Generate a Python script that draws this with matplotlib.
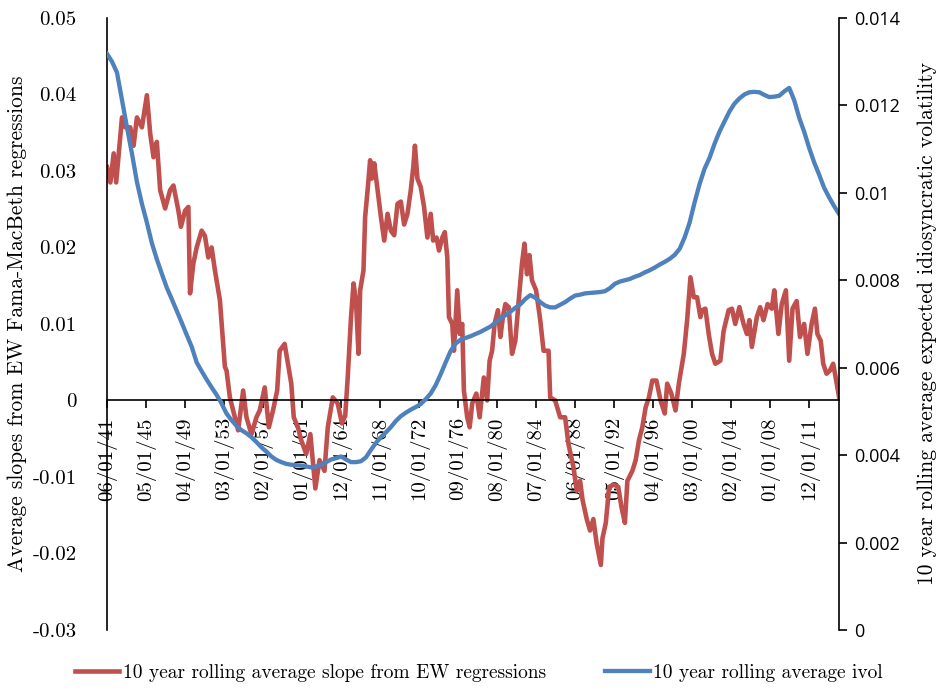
import numpy as np
import matplotlib
matplotlib.use('Agg')
import matplotlib.pyplot as plt

# months counted from 06/1941
slope_months = [
    0, 4, 8, 11, 18, 22, 28, 32, 36, 42, 48, 52, 56, 60, 64, 70, 76, 80, 86, 89,
    94, 98, 100, 104, 108, 114, 118, 122, 126, 130, 136, 139, 142, 144, 148, 152, 158, 164, 168, 174,
    180, 184, 190, 195, 200, 205, 208, 214, 218, 222, 225, 230, 234, 240, 245, 251, 256, 262, 266, 272,
    278, 283, 287, 290, 294, 297, 300, 303, 305, 309, 311, 314, 317, 319, 322, 326, 330, 334, 338, 342,
    346, 350, 354, 358, 362, 366, 369, 371, 374, 378, 382, 386, 390, 393, 397, 400, 404, 407, 410, 412,
    416, 418, 422, 425, 428, 430, 434, 437, 440, 445, 449, 454, 458, 461, 464, 467, 471, 474, 477, 480,
    484, 488, 492, 496, 500, 503, 506, 509, 512, 517, 522, 526, 532, 534, 540, 546, 552, 556, 562, 566,
    570, 573, 578, 582, 586, 590, 595, 597, 601, 605, 611, 616, 620, 624, 627, 633, 637, 641, 645, 649,
    653, 657, 662, 667, 672, 675, 680, 685, 689, 695, 699, 703, 707, 711, 715, 717, 721, 725, 729, 733,
    739, 743, 749, 753, 757, 762, 767, 771, 774, 777, 783, 787, 791, 796, 801, 804, 809, 813, 818, 822,
    826, 831, 835, 840, 844, 849, 853, 856, 860, 863, 867, 871, 875, 878, 882,
]
slope_ew = [
    0.0305, 0.0285, 0.0323, 0.0285, 0.037, 0.0357, 0.0357, 0.0333, 0.037, 0.0357,
    0.0399, 0.0349, 0.0318, 0.0338, 0.0275, 0.0251, 0.0275, 0.0281, 0.0248, 0.0227,
    0.0248, 0.0253, 0.014, 0.0179, 0.020, 0.0222, 0.0215, 0.0187, 0.020, 0.017,
    0.0131, 0.0087, 0.0044, 0.0039, 0.0004, -0.0013, -0.0039, 0.0013, -0.0022, -0.0044,
    -0.0022, -0.0013, 0.0017, -0.0035, -0.0013, 0.0013, 0.0065, 0.0074, 0.0048, 0.0022,
    -0.0022, -0.0035, -0.0052, -0.007, -0.0044, -0.0115, -0.0078, -0.0092, -0.0035, 0.0004,
    -0.0004, -0.003, -0.002, 0.003, 0.0109, 0.0153, 0.013, 0.0061, 0.0144, 0.017,
    0.024, 0.0275, 0.0314, 0.029, 0.031, 0.0275, 0.024, 0.0209, 0.0244, 0.0222,
    0.0216, 0.0257, 0.026, 0.023, 0.0244, 0.0275, 0.0305, 0.0333, 0.029, 0.0279,
    0.0253, 0.0213, 0.0244, 0.0209, 0.0213, 0.0196, 0.0213, 0.022, 0.0187, 0.0109,
    0.010, 0.0065, 0.0144, 0.0087, 0.010, 0.0013, -0.0022, -0.0035, -0.0004, 0.0009,
    -0.0022, 0.003, 0.000, 0.0052, 0.0065, 0.010, 0.0118, 0.0083, 0.0109, 0.0126,
    0.0122, 0.0061, 0.0078, 0.013, 0.0179, 0.0205, 0.0165, 0.019, 0.0157, 0.0144,
    0.0105, 0.0065, 0.0065, 0.0004, 0.000, -0.0022, -0.0022, -0.0057, -0.0087, -0.0118,
    -0.0105, -0.013, -0.0155, -0.017, -0.0155, -0.0187, -0.0215, -0.018, -0.016, -0.0113,
    -0.011, -0.0113, -0.014, -0.016, -0.0105, -0.0092, -0.0078, -0.0052, -0.0035, -0.0009,
    0.0004, 0.0026, 0.0026, 0.000, -0.0017, 0.0022, 0.0009, -0.0013, 0.0022, 0.0061,
    0.0105, 0.0161, 0.0135, 0.0135, 0.0109, 0.0118, 0.012, 0.0087, 0.0061, 0.0048,
    0.0052, 0.0091, 0.0118, 0.012, 0.010, 0.0122, 0.010, 0.0087, 0.0105, 0.007,
    0.0109, 0.0122, 0.0105, 0.0126, 0.012, 0.0144, 0.0087, 0.0126, 0.0144, 0.0052,
    0.012, 0.013, 0.0083, 0.010, 0.0061, 0.010, 0.012, 0.0087, 0.0078, 0.0048,
    0.0035, 0.0039, 0.0048, 0.003, 0.0005,
]
# half-year samples starting 06/1941
ivol = [
    0.01318, 0.01300, 0.01275, 0.01212, 0.01150, 0.01090, 0.01025, 0.00975, 0.00932, 0.00885,
    0.00848, 0.00815, 0.00783, 0.00757, 0.00730, 0.00703, 0.00675, 0.00648, 0.00612, 0.00592,
    0.00573, 0.00555, 0.00538, 0.00518, 0.00495, 0.00480, 0.00467, 0.00457, 0.00450, 0.00441,
    0.00430, 0.00418, 0.00408, 0.00397, 0.00389, 0.00384, 0.00380, 0.00378, 0.00377, 0.00376,
    0.00374, 0.00372, 0.00374, 0.00378, 0.00384, 0.00390, 0.00393, 0.00397, 0.00390, 0.00384,
    0.00384, 0.00386, 0.00395, 0.00412, 0.00428, 0.00441, 0.00452, 0.00464, 0.00478, 0.00489,
    0.00497, 0.00504, 0.00510, 0.00517, 0.00528, 0.00541, 0.00560, 0.00585, 0.00612, 0.00638,
    0.00655, 0.00664, 0.00668, 0.00672, 0.00677, 0.00682, 0.00688, 0.00694, 0.00703, 0.00713,
    0.00720, 0.00728, 0.00737, 0.00745, 0.00757, 0.00766, 0.00760, 0.00750, 0.00742, 0.00738,
    0.00738, 0.00744, 0.00750, 0.00758, 0.00765, 0.00767, 0.00770, 0.00771, 0.00772, 0.00773,
    0.00775, 0.00782, 0.00792, 0.00797, 0.00800, 0.00803, 0.00808, 0.00812, 0.00818, 0.00823,
    0.00829, 0.00836, 0.00842, 0.00849, 0.00858, 0.00872, 0.00898, 0.00932, 0.00978, 0.01020,
    0.01055, 0.01080, 0.01112, 0.01140, 0.01163, 0.01186, 0.01204, 0.01216, 0.01225, 0.01230,
    0.01231, 0.01230, 0.01224, 0.01219, 0.01220, 0.01222, 0.01232, 0.01240, 0.01212, 0.01172,
    0.01140, 0.01103, 0.01070, 0.01042, 0.01012, 0.00990, 0.00970, 0.00952,
]
date_labels = ['06/01/41', '05/01/45', '04/01/49', '03/01/53', '02/01/57', '01/01/61',
               '12/01/64', '11/01/68', '10/01/72', '09/01/76', '08/01/80', '07/01/84',
               '06/01/88', '05/01/92', '04/01/96', '03/01/00', '02/01/04', '01/01/08',
               '12/01/11']
left_ticks = [-0.03, -0.02, -0.01, 0, 0.01, 0.02, 0.03, 0.04, 0.05]
left_labels = ['-0.03', '-0.02', '-0.01', '0', '0.01', '0.02', '0.03', '0.04', '0.05']
right_ticks = [0, 0.002, 0.004, 0.006, 0.008, 0.01, 0.012, 0.014]
right_labels = ['0', '0.002', '0.004', '0.006', '0.008', '0.01', '0.012', '0.014']

plt.rcParams['font.family'] = ['cmr10', 'DejaVu Serif']
plt.rcParams['axes.unicode_minus'] = False

months_blue = np.arange(len(ivol)) * 6

fig = plt.figure(figsize=(9.39, 6.91), dpi=100)
ax = fig.add_axes([0.114, 0.0883, 0.7795, 0.8857])
ax2 = ax.twinx()

red, = ax.plot(slope_months, slope_ew, color='#C0504D', lw=3.3,
               label='10 year rolling average slope from EW regressions')
blue, = ax2.plot(months_blue, ivol, color='#4F81BD', lw=3.1,
                 label='10 year rolling average ivol')

ax.set_xlim(0, 882)
ax.set_ylim(-0.03, 0.05)
ax2.set_ylim(0, 0.014)

ax.spines['top'].set_visible(False)
ax.spines['right'].set_visible(False)
ax.spines['bottom'].set_position(('data', 0))
ax2.spines['top'].set_visible(False)
ax2.spines['left'].set_visible(False)
ax2.spines['bottom'].set_visible(False)
for s in [ax.spines['left'], ax.spines['bottom'], ax2.spines['right']]:
    s.set_linewidth(1.2)

ax.set_xticks(np.arange(len(date_labels)) * 47)
ax.set_xticklabels(date_labels, rotation=90, fontsize=15)
ax.tick_params(axis='x', direction='out', length=6, width=1.2, pad=6)

ax.set_yticks(left_ticks)
ax.set_yticklabels(left_labels, fontsize=15)
ax.tick_params(axis='y', length=0, pad=22)

ax2.set_yticks(right_ticks)
ax2.set_yticklabels(right_labels, fontsize=13, family='Open Sans')
ax2.tick_params(axis='y', direction='out', length=6, width=1.2, pad=5)

ax.set_ylabel('Average slopes from EW Fama-MacBeth regressions', fontsize=15.5)
ax.yaxis.set_label_coords(-0.109, 0.5)
ax2.set_ylabel('10 year rolling average expected idiosyncratic volatility',
               fontsize=15.5, rotation=90)
ax2.yaxis.set_label_coords(1.107, 0.5)

fig.legend(handles=[red, blue], loc='lower center', bbox_to_anchor=(0.51, -0.012),
           ncol=2, frameon=False, fontsize=14, handlelength=2.3,
           handletextpad=0.2, columnspacing=3.0)

plt.savefig('out.png', dpi=100)
